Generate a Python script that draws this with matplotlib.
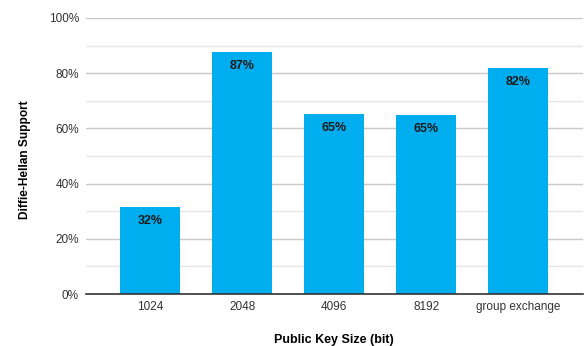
import matplotlib.pyplot as plt
from matplotlib.ticker import MultipleLocator, PercentFormatter

plt.rcParams['font.family'] = ['Liberation Sans', 'DejaVu Sans']

key_sizes = ['1024', '2048', '4096', '8192', 'group exchange']
support = [31.5, 87.7, 65.2, 64.9, 81.9]
labels = ['32%', '87%', '65%', '65%', '82%']

fig = plt.figure(figsize=(5.88, 3.46), dpi=100)
ax = fig.add_axes([0.146, 0.150, 0.845, 0.798])

x = range(len(key_sizes))
bars = ax.bar(x, support, width=0.65, color='#00AEEF', zorder=3)
for b, lab in zip(bars, labels):
    ax.text(b.get_x() + b.get_width() / 2, b.get_height() - 3.0, lab,
            ha='center', va='top', fontsize=9, fontweight='bold',
            color='#1a1a1a', zorder=4)

ax.set_xlim(-0.7, 4.7)
ax.set_ylim(0, 100)
ax.yaxis.set_major_locator(MultipleLocator(20))
ax.yaxis.set_minor_locator(MultipleLocator(10))
ax.yaxis.set_major_formatter(PercentFormatter(decimals=0))
ax.grid(axis='y', which='major', color='#c8c8c8', linewidth=1, zorder=0)
ax.grid(axis='y', which='minor', color='#e6e6e6', linewidth=1, zorder=0)
ax.set_xticks(list(x))
ax.set_xticklabels(key_sizes)
ax.tick_params(axis='both', which='both', length=0, labelsize=8.5,
               labelcolor='#333333')
ax.tick_params(axis='y', pad=5)
ax.tick_params(axis='x', pad=5)
for s in ['top', 'right', 'left']:
    ax.spines[s].set_visible(False)
ax.spines['bottom'].set_color('#333333')
ax.spines['bottom'].set_linewidth(1.2)
ax.spines['bottom'].set_zorder(5)

fig.text(334 / 588, 1 - 340 / 346, 'Public Key Size (bit)', fontsize=9,
         fontweight='bold', ha='center', va='center')
fig.text(25 / 588, 1 - 160 / 346, 'Diffie-Hellan Support', fontsize=8.6,
         fontweight='bold', ha='center', va='center', rotation=90)

fig.savefig('out.png', dpi=100)
